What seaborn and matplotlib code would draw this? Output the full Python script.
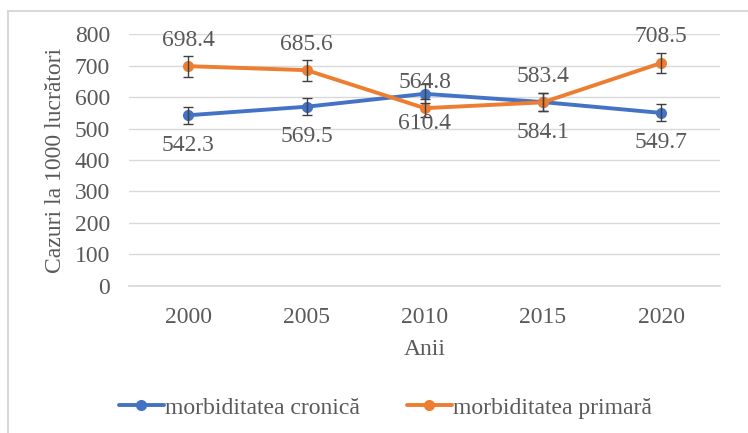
import matplotlib
matplotlib.use("Agg")
import matplotlib.pyplot as plt
import seaborn as sns
import pandas as pd
from matplotlib.lines import Line2D

years = [2000, 2005, 2010, 2015, 2020]
cronica = [542.3, 569.5, 610.4, 584.1, 549.7]
primara = [698.4, 685.6, 564.8, 583.4, 708.5]
err_cronica = [27, 28, 30, 29, 27]
err_primara = [33, 33, 28, 29, 33]
series_names = ["morbiditatea cronică", "morbiditatea primară"]
colors = ["#4472C4", "#ED7D31"]

sns.set_theme(style="white")
plt.rcParams['font.family'] = ['Liberation Serif', 'DejaVu Serif']
txt = "#595959"
fs = 17

df = pd.DataFrame({
    "An": years * 2,
    "Valoare": cronica + primara,
    "Serie": [series_names[0]] * 5 + [series_names[1]] * 5,
})

fig = plt.figure(figsize=(7.48, 4.33), dpi=100)
ax = fig.add_axes([0.173, 0.340, 0.790, 0.581])

sns.lineplot(data=df, x="An", y="Valoare", hue="Serie", palette=colors,
             marker="o", markersize=8, markeredgewidth=0, linewidth=2.8,
             ax=ax, legend=False, zorder=3)

for vals, errs in [(cronica, err_cronica), (primara, err_primara)]:
    ax.errorbar(years, vals, yerr=errs, fmt="none", ecolor="#404040",
                elinewidth=1.0, capsize=3.5, capthick=1.0, zorder=4)

for x, v in zip(years, cronica):
    ax.annotate(f"{v:.1f}", (x, v), xytext=(0, -30), textcoords="offset pixels",
                ha="center", va="center", fontsize=fs, color=txt, zorder=5)
for x, v in zip(years, primara):
    ax.annotate(f"{v:.1f}", (x, v), xytext=(0, 26), textcoords="offset pixels",
                ha="center", va="center", fontsize=fs, color=txt, zorder=5)

ax.set_xlim(1997.5, 2022.5)
ax.set_ylim(0, 800)
ax.set_xticks(years)
ax.set_xticklabels([str(y) for y in years])
ax.set_yticks(range(0, 801, 100))
ax.tick_params(axis="both", labelsize=fs, colors=txt, length=0)
ax.tick_params(axis="x", pad=15)
ax.tick_params(axis="y", pad=14)
ax.grid(axis="y", color="#D9D9D9", linewidth=1.0)
ax.set_axisbelow(True)
for s in ["top", "right", "left"]:
    ax.spines[s].set_visible(False)
ax.spines["bottom"].set_color("#D9D9D9")
ax.set_xlabel("Anii", fontsize=fs, color=txt, labelpad=8)
ax.set_ylabel("Cazuri la 1000 lucrători", fontsize=fs, color=txt, labelpad=6)

handles = [Line2D([0], [0], color=c, linewidth=2.8, marker="o", markersize=8,
                  markeredgewidth=0) for c in colors]
leg = fig.legend(handles, series_names, loc="center", bbox_to_anchor=(0.515, 0.058),
                 ncol=2, frameon=False, fontsize=fs, handlelength=1.9,
                 handletextpad=0.05, columnspacing=2.0)
for t in leg.get_texts():
    t.set_color(txt)

fig.lines.append(Line2D([0.011, 0.011], [0.0, 0.974], transform=fig.transFigure,
                        color="#D9D9D9", linewidth=1.5))
fig.lines.append(Line2D([0.011, 1.0], [0.974, 0.974], transform=fig.transFigure,
                        color="#D9D9D9", linewidth=1.5))

fig.savefig("out.png", dpi=100)
